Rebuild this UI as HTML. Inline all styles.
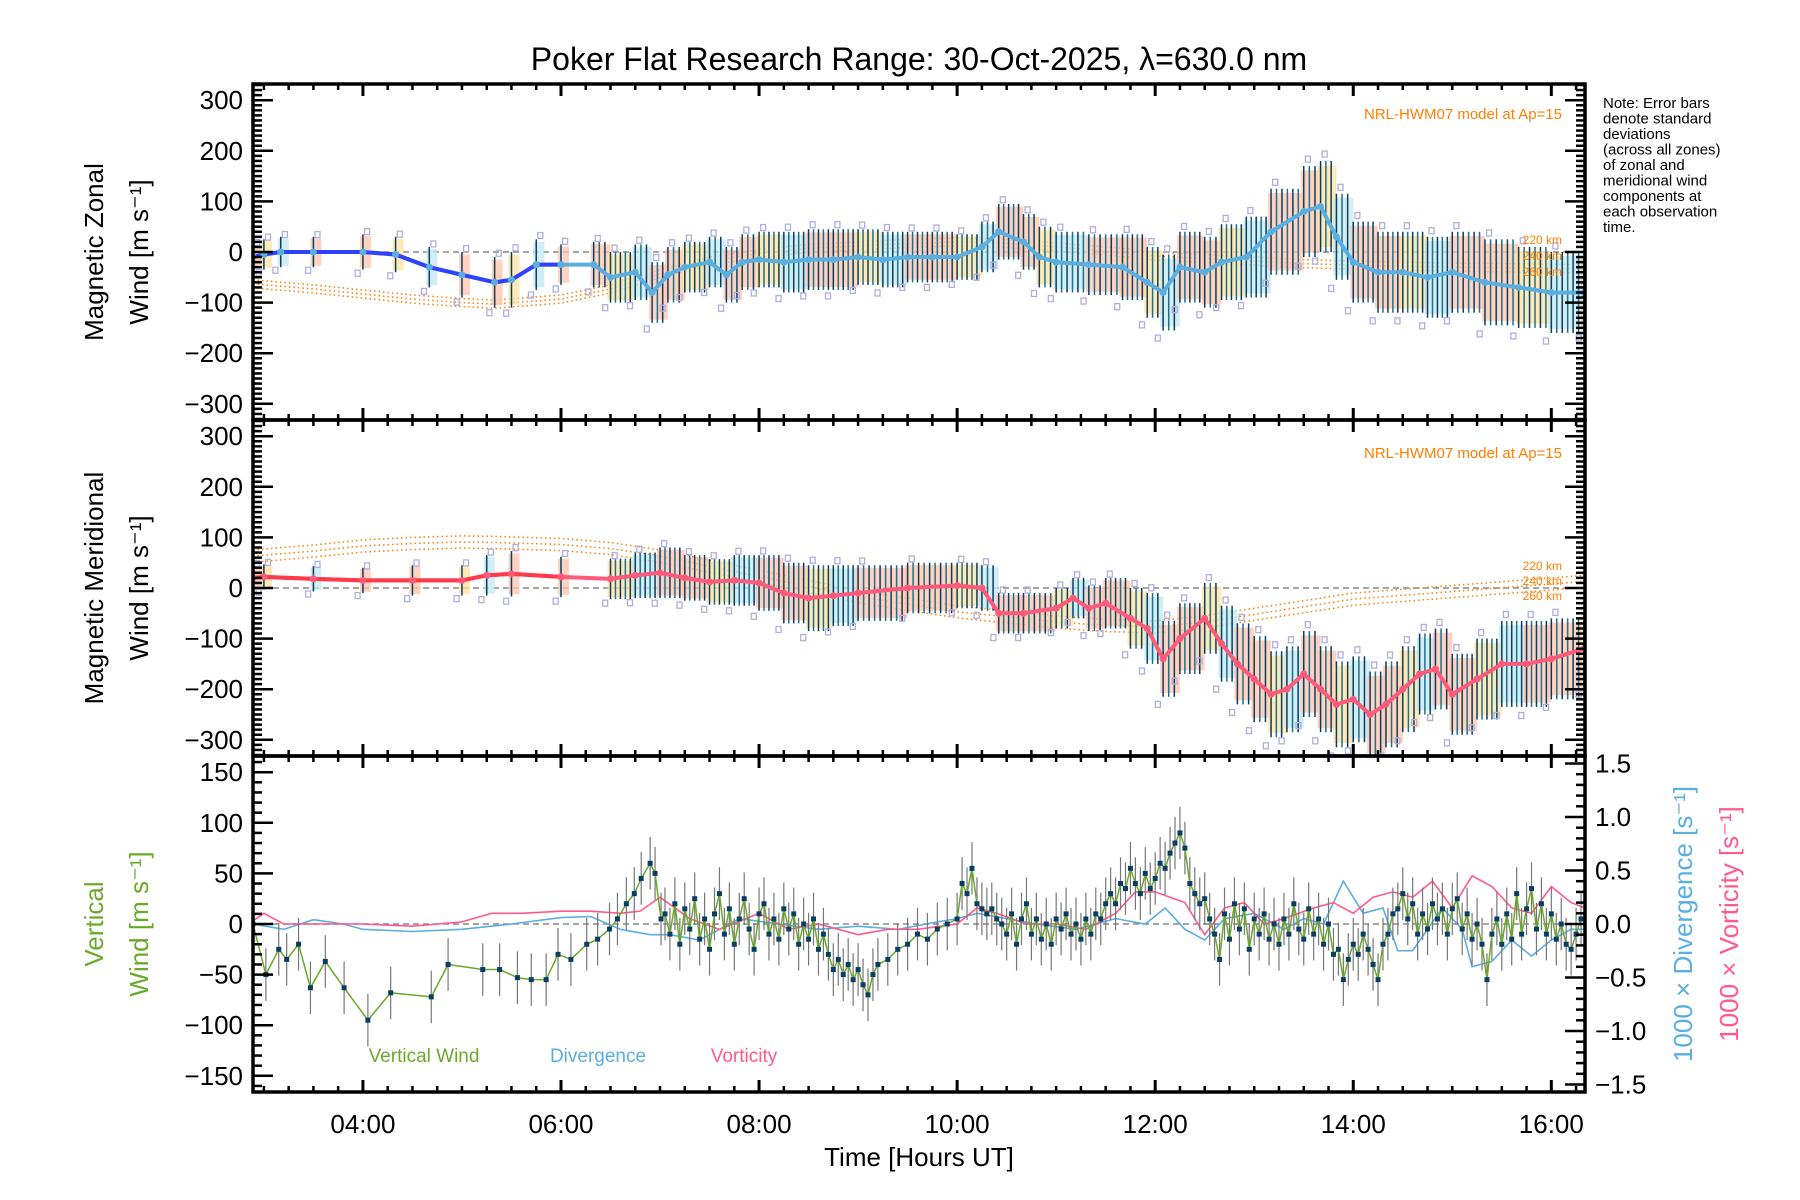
<!DOCTYPE html>
<html><head><meta charset="utf-8">
<style>
html,body{margin:0;padding:0;background:#fff;}
svg{display:block;font-family:"Liberation Sans",sans-serif;}
</style></head>
<body>
<svg id="fig" width="1800" height="1200" viewBox="0 0 1800 1200" xmlns="http://www.w3.org/2000/svg">
<rect width="1800" height="1200" fill="#fff"/>
<text x="919" y="70" font-size="32" text-anchor="middle">Poker Flat Research Range: 30-Oct-2025, λ=630.0 nm</text>
<g font-size="15" fill="#000">
<text x="1603" y="108">Note: Error bars</text>
<text x="1603" y="123.5">denote standard</text>
<text x="1603" y="139">deviations</text>
<text x="1603" y="154.5">(across all zones)</text>
<text x="1603" y="170">of zonal and</text>
<text x="1603" y="185.5">meridional wind</text>
<text x="1603" y="201">components at</text>
<text x="1603" y="216.5">each observation</text>
<text x="1603" y="232">time.</text>
</g>
<g id="layer"></g>
</svg>
<script>
// ---------- data ----------
const zTimes=[2.89,3.0,3.17,3.5,4.0,4.33,4.67,5.0,5.33,5.5,5.75,6.0,6.33,6.5,6.75,6.92,7.08,7.25,7.5,7.67,7.83,8.0,8.25,8.5,8.75,9.0,9.25,9.5,9.75,10.0,10.25,10.42,10.67,10.83,11.0,11.33,11.67,11.92,12.08,12.25,12.5,12.67,12.92,13.17,13.5,13.67,13.83,14.0,14.25,14.5,14.75,15.0,15.33,15.67,16.0,16.33];
const zVals=[-10,-5,0,0,0,-5,-30,-45,-60,-55,-25,-25,-25,-50,-40,-80,-45,-30,-20,-45,-20,-15,-20,-15,-15,-10,-15,-10,-10,-10,10,40,20,-10,-20,-25,-30,-60,-80,-30,-40,-20,-10,40,80,90,30,-20,-40,-40,-50,-40,-60,-70,-80,-80];
const zStd=[25,30,30,30,35,35,40,45,50,55,50,40,45,50,55,60,55,50,50,55,55,55,60,60,60,55,55,50,50,45,50,55,55,60,60,60,65,70,75,70,70,75,80,85,90,90,85,80,80,80,80,80,85,80,80,75];
const mTimes=[2.89,3.0,3.5,4.0,4.5,5.0,5.25,5.5,6.0,6.5,6.75,7.0,7.25,7.5,7.75,8.0,8.25,8.5,8.75,9.0,9.5,10.0,10.25,10.42,10.67,11.0,11.17,11.33,11.5,11.75,11.92,12.08,12.25,12.5,12.67,12.83,13.0,13.17,13.33,13.5,13.67,13.83,14.0,14.17,14.33,14.5,14.67,14.83,15.0,15.25,15.5,15.75,16.0,16.33];
const mVals=[20,22,18,15,15,15,25,28,22,18,25,30,20,12,15,10,-10,-20,-15,-10,0,5,0,-50,-50,-40,-20,-40,-30,-60,-80,-140,-100,-60,-110,-150,-180,-210,-200,-170,-200,-230,-220,-250,-230,-200,-170,-160,-210,-180,-150,-150,-140,-120];
const mStd=[25,25,25,25,30,30,40,45,40,40,45,50,45,45,50,55,60,65,60,55,50,45,45,40,40,40,40,45,50,60,70,75,70,70,75,80,85,85,85,85,85,85,85,85,85,85,80,80,80,80,85,85,80,75];
const modelT=[2.89,3.5,4.0,4.5,5.0,5.33,6.0,6.5,7.0,7.5,8.0,8.5,9.0,9.5,10.0,10.5,11.0,11.5,12.0,12.5,13.0,13.5,14.0,15.0,16.34];
const modelZ220=[-55,-65,-75,-85,-92,-95,-85,-65,-35,-10,5,15,20,25,28,25,18,10,0,-5,-10,-15,-18,-22,-25];
const modelM220=[75,85,95,100,103,102,98,90,75,55,35,15,-5,-20,-35,-45,-55,-62,-65,-55,-40,-25,-10,5,25];
const modelOffsets=[0,8,16];
const vTimes=[2.89,3.02,3.15,3.23,3.35,3.47,3.62,3.81,4.05,4.28,4.69,4.86,5.21,5.38,5.56,5.70,5.85,5.97,6.10,6.26,6.37,6.49,6.57,6.66,6.74,6.81,6.90,6.95,7.01,7.05,7.1,7.15,7.2,7.25,7.3,7.35,7.4,7.45,7.5,7.55,7.6,7.65,7.7,7.75,7.8,7.85,7.9,7.95,8.0,8.05,8.1,8.15,8.2,8.25,8.3,8.35,8.4,8.45,8.5,8.55,8.6,8.65,8.7,8.75,8.8,8.85,8.9,8.95,9.0,9.05,9.1,9.15,9.2,9.3,9.4,9.5,9.6,9.7,9.8,9.9,10.0,10.05,10.1,10.15,10.2,10.25,10.3,10.35,10.4,10.45,10.5,10.55,10.6,10.65,10.7,10.75,10.8,10.85,10.9,10.95,11.0,11.05,11.1,11.15,11.2,11.25,11.3,11.35,11.4,11.45,11.5,11.55,11.6,11.65,11.7,11.75,11.8,11.85,11.9,11.95,12.0,12.05,12.1,12.15,12.2,12.25,12.3,12.35,12.4,12.45,12.5,12.55,12.6,12.65,12.7,12.75,12.8,12.85,12.9,12.95,13.0,13.05,13.1,13.15,13.2,13.25,13.3,13.35,13.4,13.45,13.5,13.55,13.6,13.65,13.7,13.75,13.8,13.85,13.9,13.95,14.0,14.05,14.1,14.15,14.2,14.25,14.3,14.35,14.4,14.45,14.5,14.55,14.6,14.65,14.7,14.75,14.8,14.85,14.9,14.95,15.0,15.05,15.1,15.15,15.2,15.25,15.3,15.35,15.4,15.45,15.5,15.55,15.6,15.65,15.7,15.75,15.8,15.85,15.9,15.95,16.0,16.05,16.1,16.15,16.2,16.25,16.3];
const vVals=[0,-50,-25,-35,-20,-63,-37,-63,-95,-68,-72,-40,-45,-45,-53,-55,-55,-30,-35,-20,-15,-5,5,20,30,45,60,50,5,10,-10,20,-20,15,-5,25,-15,5,-25,10,30,-10,15,-20,5,25,-5,-25,10,20,-10,5,-15,15,-5,10,-20,0,-15,5,-25,-10,-30,-45,-35,-50,-40,-55,-45,-60,-70,-50,-40,-35,-25,-20,-10,-15,-5,0,5,40,30,55,20,15,10,15,5,0,-10,10,-20,5,20,-10,5,-15,0,-20,5,-5,10,-10,0,-15,5,-10,10,5,20,30,20,40,35,55,40,30,50,35,45,60,55,70,80,90,75,40,30,20,25,5,-10,-35,10,-15,20,-5,15,-25,5,-10,10,-15,0,-20,5,-10,20,-5,-15,15,-10,5,-20,0,-30,-25,-55,-35,-20,-30,-10,-25,-40,-55,-20,-10,10,15,30,5,20,-10,10,-5,20,5,15,-10,15,25,-5,10,-15,0,-20,-55,-10,5,-20,10,-15,30,-10,15,35,-5,20,-10,10,-15,0,-20,-25,-10,5];
const vErr=[20];
const dTimes=[2.89,3.2,3.5,3.8,4.0,4.5,5.0,5.5,6.0,6.3,6.6,6.9,7.1,7.4,7.8,8.2,8.6,9.0,9.4,9.8,10.0,10.2,10.5,10.8,11.2,11.6,11.9,12.1,12.3,12.5,12.7,13.0,13.3,13.5,13.7,13.9,14.1,14.3,14.45,14.6,14.9,15.1,15.2,15.4,15.6,15.8,16.0,16.2,16.34];
const dVals=[0,-0.05,0.04,0.0,-0.05,-0.07,-0.05,0.0,0.06,0.07,-0.05,-0.1,-0.1,-0.15,0.05,0.0,-0.05,-0.02,-0.05,0.02,0.05,0.1,0.05,0.0,-0.05,0.05,0.0,0.15,-0.05,-0.15,0.05,0.1,-0.05,0.05,0.0,0.4,0.1,0.15,-0.25,-0.25,0.15,-0.05,-0.4,-0.35,-0.15,-0.3,-0.15,-0.05,-0.05];
const rTimes=[2.89,3.0,3.2,3.5,4.0,4.5,5.0,5.3,5.6,6.0,6.3,6.6,6.8,7.0,7.3,7.6,8.0,8.3,8.6,9.0,9.3,9.6,10.0,10.2,10.4,10.7,11.0,11.3,11.6,11.8,12.0,12.3,12.5,12.7,12.9,13.1,13.3,13.6,13.8,14.0,14.2,14.4,14.6,14.8,15.0,15.2,15.4,15.6,15.8,16.0,16.2,16.34];
const rVals=[0.03,0.1,0.0,0.0,0.0,-0.02,0.02,0.1,0.1,0.12,0.12,0.1,0.12,0.25,0.05,-0.05,0.1,-0.05,0.0,-0.1,-0.05,-0.05,0.0,0.15,0.1,0.0,0.0,-0.05,0.1,0.3,0.3,0.2,-0.1,0.15,0.2,0.0,0.05,0.15,0.2,0.1,0.25,0.3,0.25,0.4,0.15,0.45,0.35,0.15,0.1,0.35,0.2,0.15];
const xTickLabels=["04:00","06:00","08:00","10:00","12:00","14:00","16:00"];
const xTickHours=[4,6,8,10,12,14,16];
const windTicks=[-300,-200,-100,0,100,200,300];
const vertTicks=[-150,-100,-50,0,50,100,150];
const rightTicks=[-1.5,-1.0,-0.5,0.0,0.5,1.0,1.5];

// ---------- layout ----------
const X0=253,X1=1585,T0=2.89,T1=16.34;
const P=[{top:84,bot:420},{top:420,bot:756},{top:756,bot:1092}];
const NS="http://www.w3.org/2000/svg";
const layer=document.getElementById('layer');
function xs(t){return X0+(t-T0)/(T1-T0)*(X1-X0);}
function ys(p,v,lim){const m=(P[p].top+P[p].bot)/2;return m-v/lim*(P[p].bot-P[p].top)/2;}
function mk(tag,attrs,parent){const e=document.createElementNS(NS,tag);for(const k in attrs)e.setAttribute(k,attrs[k]);(parent||layer).appendChild(e);return e;}
function grp(name){const g=mk('g',{});return g;}
function txt(parent,x,y,s,size,fill,anchor,rot){const e=mk('text',{x:x,y:y,'font-size':size,fill:fill||'#000','text-anchor':anchor||'middle'},parent);if(rot)e.setAttribute('transform','rotate(-90 '+x+' '+y+')');e.textContent=s;return e;}
const LIM=332, VLIM=166, RLIM=1.57;

// clip
const defs=mk('defs',{});
[0,1,2].forEach(i=>{const c=mk('clipPath',{id:'c'+i},defs);mk('rect',{x:X0,y:P[i].top,width:X1-X0,height:P[i].bot-P[i].top},c);});

// wind panels
function windPanel(p,times,vals,std,modelBase,lineColor,earlyColor,name){
  const g=grp(name+'-panel');g.setAttribute('clip-path','url(#c'+p+')');
  mk('line',{x1:X0,x2:X1,y1:ys(p,0,LIM),y2:ys(p,0,LIM),stroke:'#888','stroke-width':1.5,'stroke-dasharray':'6,4'},g);
  const mg=grp(name+'-model-curves');g.appendChild(mg);
  modelOffsets.forEach((o,k)=>{
    const pts=modelT.map((t,i)=>xs(t)+','+ys(p,modelBase[i]-o*(p==0?1:1.5),LIM)).join(' ');
    const pl=mk('polyline',{points:pts,fill:'none',stroke:'#ff7f00','stroke-width':1.5,'stroke-dasharray':'1.5,3'},mg);
    
  });
  const bg=grp(name+'-error-bars');g.appendChild(bg);
  const zc=['#ffc4a8','#fde3a0','#c2e8f0','#ffc4b0'];
  times.forEach((t,i)=>{
    const x=xs(t),v=vals[i],s=std[i];
    const xn=i<times.length-1?xs(times[i+1]):x+8;
    const dense=t>=6.3;
    const span=dense?(xn-x):8;
    // pastel zone spread
    const r=mk('rect',{x:x-3,y:ys(p,v+s*0.9,LIM),width:span+3,height:ys(p,v-s*0.9,LIM)-ys(p,v+s*0.9,LIM),fill:zc[i%4],opacity:0.75},bg);
    
    const n=dense?Math.max(1,Math.round(span/5.5)):1;
    for(let z=0;z<n;z++){
      const bx=x+z*span/n;
      const l=mk('line',{x1:bx,x2:bx,y1:ys(p,v+s,LIM),y2:ys(p,v-s,LIM),stroke:z%2?'#1f6f8a':'#0a3d62','stroke-width':1.5},bg);
      
    }
    [1.15,-1.2].forEach(f=>{
      const q=mk('rect',{x:x-3+f*4,y:ys(p,v+s*f,LIM)-3,width:5,height:6,fill:'none',stroke:'#b0aee0','stroke-width':1.3},bg);
      
    });
  });
  const pts=times.map((t,i)=>xs(t)+','+ys(p,vals[i],LIM)).join(' ');
  const ml=mk('polyline',{points:pts,fill:'none',stroke:lineColor,'stroke-width':4,'stroke-linejoin':'round'},g);
  
  const early=[];times.forEach((t,i)=>{if(t<=6.0)early.push(xs(t)+','+ys(p,vals[i],LIM));});
  const el=mk('polyline',{points:early.join(' '),fill:'none',stroke:earlyColor,'stroke-width':4,'stroke-linejoin':'round'},g);
  
  times.forEach((t,i)=>{const c=mk('circle',{cx:xs(t),cy:ys(p,vals[i],LIM),r:3.5,fill:lineColor},g);
    });
  const lab=grp(name+'-model-labels');
  txt(lab,1562,119+(p*339),'NRL-HWM07 model at Ap=15',15,'#ff7f00','end');
  const ly=p==0?[244,260,276]:[570,585,600];
  ['220 km','240 km','260 km'].forEach((s,k)=>txt(lab,1562,ly[k],s,12,'#ff7f00','end'));
}
windPanel(0,zTimes,zVals,zStd,modelZ220,'#5aaee0','#3040ff','zonal');
windPanel(1,mTimes,mVals,mStd,modelM220,'#ff5a7a','#ff3a4a','meridional');

// vertical panel
(function(){
  const p=2;const g=grp('vertical-panel');g.setAttribute('clip-path','url(#c2)');
  mk('line',{x1:X0,x2:X1,y1:ys(p,0,VLIM),y2:ys(p,0,VLIM),stroke:'#888','stroke-width':1.5,'stroke-dasharray':'6,4'},g);
  const dl=mk('polyline',{points:dTimes.map((t,i)=>xs(t)+','+ys(p,dVals[i],RLIM)).join(' '),fill:'none',stroke:'#5aaee0','stroke-width':1.6},g);
  
  const rl=mk('polyline',{points:rTimes.map((t,i)=>xs(t)+','+ys(p,rVals[i],RLIM)).join(' '),fill:'none',stroke:'#ff5a8a','stroke-width':1.6},g);
  
  vTimes.forEach((t,i)=>{const e=vErr[i%vErr.length];
    const l=mk('line',{x1:xs(t),x2:xs(t),y1:ys(p,vVals[i]+e*1.3,VLIM),y2:ys(p,vVals[i]-e*1.3,VLIM),stroke:'#777','stroke-width':1.2},g);
    });
  const vl=mk('polyline',{points:vTimes.map((t,i)=>xs(t)+','+ys(p,vVals[i],VLIM)).join(' '),fill:'none',stroke:'#6aaa2a','stroke-width':1.5},g);
  
  vTimes.forEach((t,i)=>{const r=mk('rect',{x:xs(t)-2.5,y:ys(p,vVals[i],VLIM)-2.5,width:5,height:5,fill:'#0a3d62'},g);
    });
  const lg=grp('vertical-legend');
  txt(lg,424,1062,'Vertical Wind',19,'#6aaa2a');
  txt(lg,598,1062,'Divergence',19,'#5aaee0');
  txt(lg,744,1062,'Vorticity',19,'#ff5a8a');
})();

// axes
const ax=grp('axes');
P.forEach((pp,i)=>{
  const fr=mk('rect',{x:X0,y:pp.top,width:X1-X0,height:pp.bot-pp.top,fill:'none',stroke:'#000','stroke-width':3.5},ax);
  
  for(let t=3.0;t<=16.34;t+=0.25){const x=xs(t);const maj=Math.abs(t-Math.round(t/2)*2)<1e-6;
    const L=maj?12:6;
    mk('line',{x1:x,x2:x,y1:pp.top,y2:pp.top+L,stroke:'#000','stroke-width':maj?3:2.5},ax);
    mk('line',{x1:x,x2:x,y1:pp.bot,y2:pp.bot-L,stroke:'#000','stroke-width':maj?3:2.5},ax);}
});
[0,1].forEach(p=>{
  for(let v=-330;v<=330;v+=10){const y=ys(p,v,LIM);const maj=v%100==0;const L=maj?20:9;
    mk('line',{x1:X0,x2:X0+L,y1:y,y2:y,stroke:'#000','stroke-width':2.5},ax);
    mk('line',{x1:X1,x2:X1-L,y1:y,y2:y,stroke:'#000','stroke-width':2.5},ax);}
  windTicks.forEach(v=>{const s=(v<0?'\u2212':'')+Math.abs(v);txt(ax,X0-10,ys(p,v,LIM)+9,s,26,'#000','end');});
});
for(let v=-160;v<=160;v+=10){const y=ys(2,v,VLIM);const maj=v%50==0;const L=maj?20:9;
  mk('line',{x1:X0,x2:X0+L,y1:y,y2:y,stroke:'#000','stroke-width':2.5},ax);}
vertTicks.forEach(v=>{const s=(v<0?'\u2212':'')+Math.abs(v);txt(ax,X0-10,ys(2,v,VLIM)+9,s,26,'#000','end');});
for(let v=-1.5;v<=1.501;v+=0.1){const y=ys(2,v,RLIM);const maj=Math.abs(v*2-Math.round(v*2))<1e-6;const L=maj?20:9;
  mk('line',{x1:X1,x2:X1-L,y1:y,y2:y,stroke:'#000','stroke-width':2.5},ax);}
rightTicks.forEach(v=>{const s=(v<0?'\u2212':'')+Math.abs(v).toFixed(1);txt(ax,X1+10,ys(2,v,RLIM)+9,s,26,'#000','start');});
xTickHours.forEach((h,i)=>txt(ax,xs(h),1133,xTickLabels[i],26));
txt(ax,919,1166,'Time [Hours UT]',26);
function ttl(x,y,s,fill,name){const t=txt(ax,x,y,s,26,fill,'middle',true);return t;}
ttl(103,252,'Magnetic Zonal','#000','zonal-axis-title');
ttl(148,252,'Wind [m s⁻¹]','#000','zonal-axis-unit');
ttl(103,588,'Magnetic Meridional','#000','meridional-axis-title');
ttl(148,588,'Wind [m s⁻¹]','#000','meridional-axis-unit');
ttl(103,924,'Vertical','#6aaa2a','vertical-axis-title');
ttl(148,924,'Wind [m s⁻¹]','#6aaa2a','vertical-axis-unit');
ttl(1692,924,'1000 × Divergence [s⁻¹]','#5aaee0','divergence-axis-title');
ttl(1738,924,'1000 × Vorticity [s⁻¹]','#ff5a8a','vorticity-axis-title');
</script>
</body></html>
